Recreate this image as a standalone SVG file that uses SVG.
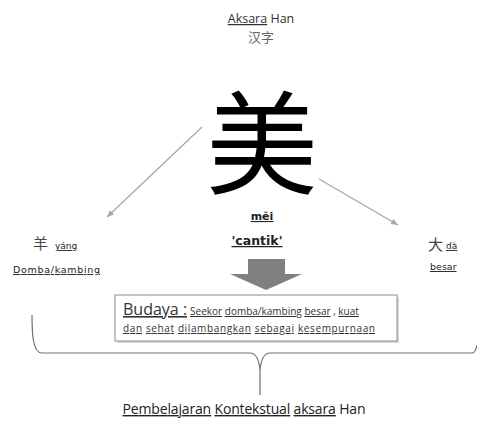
<svg xmlns="http://www.w3.org/2000/svg" width="477" height="423" viewBox="0 0 477 423">
<style>
.t{font-family:"Open Sans","Liberation Sans",sans-serif;fill:#333;}
.c{font-family:"DejaVu Sans","Liberation Sans",sans-serif;fill:#222;}
.cjk{font-family:"Noto Sans CJK SC",sans-serif;fill:#444;}
.big{font-family:"Noto Sans CJK SC",sans-serif;fill:#000;}
.sq{text-decoration:underline;text-decoration-style:wavy;text-decoration-color:#999;}
.ln{stroke:#a6a6a6;stroke-width:1.2;fill:none;}
</style>
<defs>
<marker id="ah" markerWidth="8" markerHeight="8" refX="7" refY="4" orient="auto" markerUnits="userSpaceOnUse">
<path d="M0,1 L7,4 L0,7 Z" fill="#a6a6a6"/>
</marker>
</defs>
<rect width="477" height="423" fill="#fff"/>
<g id="title">
<text class="t" x="261" y="23" font-size="12.5" text-anchor="middle"><tspan class="sq">Aksara</tspan> Han</text>
<text class="cjk" x="261" y="42" font-size="13" text-anchor="middle" style="fill:#666">汉字</text>
</g>
<g id="main">
<text class="big" x="262" y="186" font-size="112" text-anchor="middle">美</text>
<text class="c" x="262" y="220" font-size="11" text-anchor="middle" font-weight="bold"><tspan class="sq">měi</tspan></text>
<text class="c" x="257" y="245" font-size="12.5" text-anchor="middle" font-weight="bold"><tspan class="sq">'cantik'</tspan></text>
</g>
<g id="yang">
<text class="cjk" x="33" y="249" font-size="15">羊</text>
<text class="c" x="55" y="249" font-size="9"><tspan class="sq">yáng</tspan></text>
<text class="c" x="13" y="273" font-size="9.5" textLength="87"><tspan class="sq">Domba/kambing</tspan></text>
</g>
<g id="da">
<text class="cjk" x="428" y="250" font-size="15">大</text>
<text class="c" x="446" y="249" font-size="9"><tspan class="sq">dà</tspan></text>
<text class="c" x="430" y="270" font-size="9.5"><tspan class="sq">besar</tspan></text>
</g>
<g id="budaya">
<rect x="117" y="297" width="282" height="46" fill="#d9d9d9"/>
<rect x="115" y="295" width="282" height="46" fill="#fff" stroke="#8c8c8c" stroke-width="1"/>
<text class="t" x="123" y="315"><tspan font-size="16" class="sq">Budaya :</tspan><tspan font-size="10" dx="3"><tspan class="sq">Seekor</tspan> <tspan class="sq">domba/kambing</tspan> <tspan class="sq">besar</tspan> , <tspan class="sq">kuat</tspan></tspan></text>
<text class="t" x="123" y="332" font-size="10" textLength="252"><tspan class="sq">dan</tspan> <tspan class="sq">sehat</tspan> <tspan class="sq">dilambangkan</tspan> <tspan class="sq">sebagai</tspan> <tspan class="sq">kesempurnaan</tspan></text>
</g>
<g id="bottom">
<text class="t" x="244" y="414" font-size="14" text-anchor="middle" textLength="243" style="fill:#222"><tspan class="sq">Pembelajaran</tspan> <tspan class="sq">Kontekstual</tspan> <tspan class="sq">aksara</tspan> Han</text>
</g>
<g id="connectors">
<line class="ln" x1="202" y1="127" x2="107" y2="217" marker-end="url(#ah)"/>
<line class="ln" x1="319" y1="179" x2="398" y2="225" marker-end="url(#ah)"/>
<polygon points="248,259 285,259 285,274 302,274 266,290 230,274 248,274" fill="#808080"/>
<path d="M32,315 C32,335 33,353 42,353 L250,353 C256,353 259,360 260,370 L260,395 M260,370 C261,360 264,353 270,353 L472,353 C475,353 476,350 477,345" fill="none" stroke="#707070" stroke-width="1.2"/>
</g>
</svg>
